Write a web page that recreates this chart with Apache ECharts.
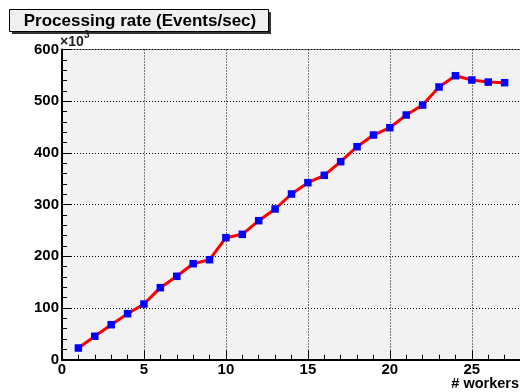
<!DOCTYPE html>
<html>
<head>
<meta charset="utf-8">
<script src="https://cdn.jsdelivr.net/npm/echarts@6/dist/echarts.min.js"></script>
<style>
html,body{margin:0;padding:0;background:#fff;}
#c{width:520px;height:392px;}
</style>
</head>
<body>
<div id="c"></div>
<script>
var chartTitle = 'Processing rate (Events/sec)';
var xAxisTitle = '# workers';
var yExponentBase = '×10';
var yExponent = '3';
var workers = [1,2,3,4,5,6,7,8,9,10,11,12,13,14,15,16,17,18,19,20,21,22,23,24,25,26,27];
var rates = [22600,45300,67700,89000,107700,139300,161300,185700,193400,236000,242500,268900,291500,320500,342400,356700,383000,412000,434600,448800,473300,492600,527500,549300,541000,537000,535800];
var xRange = [0, 28];
var yRange = [0, 600000];

var data = workers.map(function(w, i){ return [w, rates[i]]; });
var font = 'Liberation Sans, Arial, Helvetica, sans-serif';
var chart = echarts.init(document.getElementById('c'), null, {renderer:'canvas'});
chart.setOption({
  animation: false,
  backgroundColor: '#fff',
  grid: {left: 62, top: 49.5, right: -1, bottom: 32.3, outerBoundsMode: 'none', containLabel: false,
    show: true, backgroundColor: '#f2f2f2', borderColor: '#777', borderWidth: 1},
  graphic: [
    {type:'rect', shape:{x:12, y:12, width:259, height:22}, style:{fill:'#333'}},
    {type:'rect', shape:{x:9.5, y:9.5, width:259, height:22}, style:{fill:'#f0f0f0', stroke:'#000', lineWidth:1}},
    {type:'text', x:140, y:21, style:{text: chartTitle, font:'bold 17px ' + font, fill:'#000', align:'center', verticalAlign:'middle'}},
    {type:'text', x:60, y:35, style:{text: yExponentBase, font:'bold 14px ' + font, fill:'#222', align:'left', verticalAlign:'top'}},
    {type:'text', x:84, y:30, style:{text: yExponent, font:'bold 10px ' + font, fill:'#222', align:'left', verticalAlign:'top'}},
    {type:'text', x:519, y:376, style:{text: xAxisTitle, font:'bold 14.5px ' + font, fill:'#000', align:'right', verticalAlign:'top'}}
  ],
  xAxis: {
    type: 'value', min: xRange[0], max: xRange[1], interval: 5,
    axisLine: {show: true, onZero: false, lineStyle: {color: '#000', width: 2}},
    axisTick: {show: true, inside: true, length: 9, lineStyle: {color: '#000', width: 1}},
    minorTick: {show: true, splitNumber: 5, length: 5, lineStyle: {color: '#000', width: 1}},
    axisLabel: {fontFamily: font, fontWeight: 'bold', fontSize: 15, color: '#000', margin: 3, showMaxLabel: false},
    splitLine: {show: true, lineStyle: {color: '#000', type: [1, 2], width: 1}}
  },
  yAxis: {
    type: 'value', min: yRange[0], max: yRange[1], interval: 100000,
    axisLine: {show: true, onZero: false, lineStyle: {color: '#000', width: 2}},
    axisTick: {show: true, inside: true, length: 9, lineStyle: {color: '#000', width: 1}},
    minorTick: {show: true, splitNumber: 5, length: 5, lineStyle: {color: '#000', width: 1}},
    axisLabel: {fontFamily: font, fontWeight: 'bold', fontSize: 15, color: '#000', margin: 3,
      formatter: function(v){ return String(v/1000); }},
    splitLine: {show: true, lineStyle: {color: '#000', type: [1, 2], width: 1}}
  },
  series: [{
    type: 'line', data: data, symbol: 'rect', symbolSize: 7.5,
    lineStyle: {color: '#ff0000', width: 3},
    itemStyle: {color: '#0000ff'},
    z: 5
  }]
});
</script>
</body>
</html>
